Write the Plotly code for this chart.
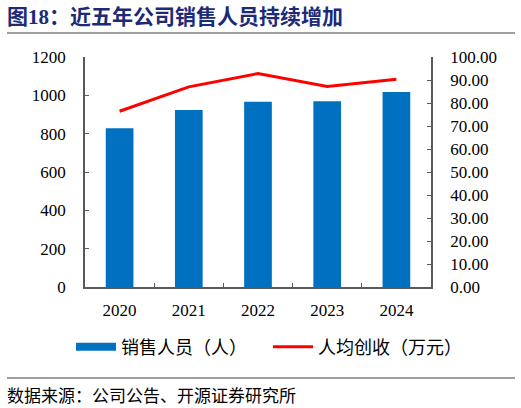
import plotly.graph_objects as go

# Chart data
years = ['2020', '2021', '2022', '2023', '2024']
sales_staff = [828, 924, 966, 969, 1018]          # 销售人员（人）
revenue_per_head = [76.4, 87.0, 92.8, 87.2, 90.3]  # 人均创收（万元）
right_ticks = [0, 10, 20, 30, 40, 50, 60, 70, 80, 90, 100]

serif = 'Liberation Serif'
cjk = 'Noto Sans CJK SC'
axis_color = '#595959'
blue = '#0070C0'

# page geometry (px) -> paper coords
W, H = 521, 408
ML, MR, MT, MB = 10, 10, 57, 121
PW, PH = W - ML - MR, H - MT - MB


def px_x(x):
    return (x - ML) / PW


def px_y(y):
    return (H - MB - y) / PH


fig = go.Figure()

fig.add_trace(go.Bar(
    x=years,
    y=sales_staff,
    name='销售人员（人）',
    marker=dict(color=blue, line=dict(width=0)),
    showlegend=False,
))

# legend swatch for the bars (wide flat bar like the original)
fig.add_trace(go.Scatter(
    x=[None], y=[None],
    name='销售人员（人）',
    mode='lines',
    line=dict(color=blue, width=8),
))

fig.add_trace(go.Scatter(
    x=years,
    y=revenue_per_head,
    name='人均创收（万元）',
    mode='lines',
    line=dict(color='#FF0000', width=3),
    yaxis='y2',
))

fig.update_layout(
    width=W,
    height=H,
    margin=dict(l=ML, r=MR, t=MT, b=MB),
    plot_bgcolor='white',
    paper_bgcolor='white',
    bargap=0.6,
    showlegend=True,
    font=dict(family=serif, size=17, color='#000000'),
    xaxis=dict(
        domain=[px_x(85), px_x(431)],
        type='category',
        showline=True, linecolor=axis_color, linewidth=1.5,
        ticks='inside', ticklen=4, tickcolor=axis_color, tickson='boundaries',
        showgrid=False,
        tickfont=dict(family=serif, size=17),
        ticklabelstandoff=7,
    ),
    yaxis=dict(
        range=[0, 1200], dtick=200,
        showline=True, linecolor=axis_color, linewidth=1.5,
        ticks='inside', ticklen=4, tickcolor=axis_color,
        showgrid=False, zeroline=False,
        tickfont=dict(family=serif, size=17),
        ticklabelstandoff=14,
    ),
    yaxis2=dict(
        overlaying='y', side='right', anchor='x',
        range=[0, 100],
        tickvals=right_ticks,
        ticktext=[f'{v:.2f}' for v in right_ticks],
        showline=True, linecolor=axis_color, linewidth=1.5,
        ticks='inside', ticklen=4, tickcolor=axis_color,
        showgrid=False, zeroline=False,
        tickfont=dict(family=serif, size=17),
        ticklabelstandoff=14,
    ),
    legend=dict(
        orientation='h',
        x=px_x(268), xanchor='center',
        y=px_y(347), yanchor='middle',
        font=dict(family=cjk, size=18),
        itemwidth=40,
        entrywidth=142, entrywidthmode='pixels',
        bgcolor='rgba(0,0,0,0)',
        traceorder='normal',
    ),
)

# Title, rules and source note
fig.add_annotation(
    text='<b>图18：近五年公司销售人员持续增加</b>',
    xref='paper', yref='paper', x=px_x(5), y=px_y(17),
    xanchor='left', yanchor='middle', showarrow=False,
    font=dict(family='Liberation Serif, Noto Sans CJK SC', size=21, color='#1C2A78'),
)
fig.add_annotation(
    text='数据来源：公司公告、开源证券研究所',
    xref='paper', yref='paper', x=px_x(5), y=px_y(394),
    xanchor='left', yanchor='middle', showarrow=False,
    font=dict(family=cjk, size=17, color='#000000'),
)
for ypx in [33, 378]:
    fig.add_shape(
        type='line', xref='paper', yref='paper',
        x0=px_x(7), x1=px_x(515),
        y0=px_y(ypx), y1=px_y(ypx),
        line=dict(color='#7F7F7F', width=1.5),
    )

# remove the browser's default page margin so the figure sits at the corner
fig.write_html('out.html', config={'displayModeBar': False},
               post_script="document.body.style.margin='0';")
